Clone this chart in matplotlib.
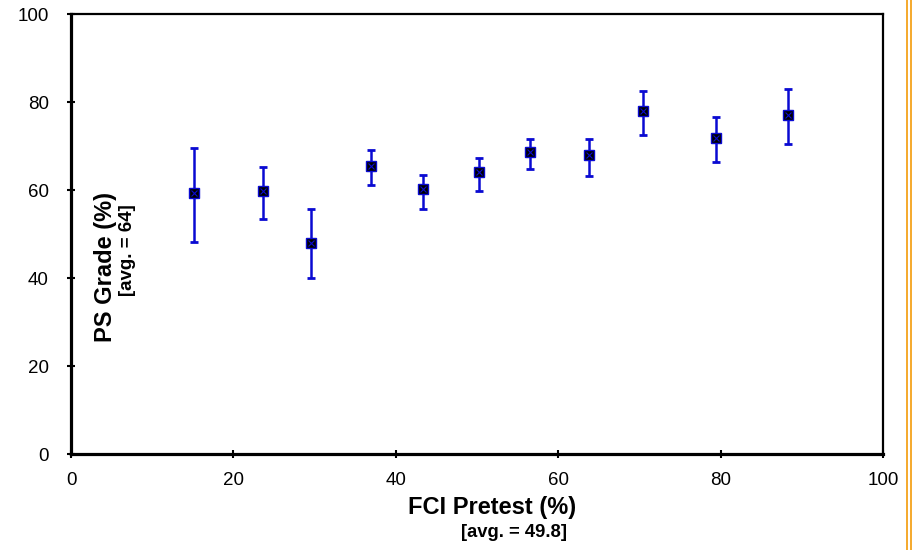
import matplotlib
matplotlib.use("Agg")
import matplotlib.pyplot as plt
from matplotlib.lines import Line2D

plt.rcParams['font.family'] = ['Liberation Sans', 'DejaVu Sans']

# FCI pretest bins vs. problem-set grade
fci_pretest = [15.1, 23.6, 29.6, 36.9, 43.3, 50.2, 56.5, 63.8, 70.4, 79.4, 88.3]
ps_grade = [59.3, 59.8, 48.0, 65.5, 60.2, 64.0, 68.7, 68.0, 78.0, 71.8, 77.0]
err_up = [69.5, 65.3, 55.6, 69.2, 63.4, 67.2, 71.7, 71.7, 82.6, 76.6, 83.0]
err_down = [48.1, 53.5, 39.9, 61.2, 55.8, 59.7, 64.8, 63.3, 72.6, 66.3, 70.4]

x_ticks = [0, 20, 40, 60, 80, 100]
y_ticks = [0, 20, 40, 60, 80, 100]

lower = [g - d for g, d in zip(ps_grade, err_down)]
upper = [u - g for g, u in zip(ps_grade, err_up)]

fig = plt.figure(figsize=(9.15, 5.5), dpi=100)
ax = fig.add_axes([0.0776, 0.1745, 0.8874, 0.80])

blue = '#0a0ad2'
ax.errorbar(fci_pretest, ps_grade, yerr=[lower, upper], fmt='none',
            ecolor=blue, elinewidth=1.8, capsize=3.2, capthick=2.0, zorder=2)
ax.plot(fci_pretest, ps_grade, 's', ms=7.5, mfc='black', mec=blue, mew=1.0, zorder=3)
ax.plot(fci_pretest, ps_grade, 'x', ms=5, mec=blue, mew=0.8, zorder=4)

ax.set_xlim(0, 100)
ax.set_ylim(0, 100)
ax.set_xticks(x_ticks)
ax.set_yticks(y_ticks)
ax.tick_params(axis='both', direction='inout', length=6, width=1.5,
               labelsize=13.5, colors='black')
ax.tick_params(axis='y', pad=13)
ax.tick_params(axis='x', pad=10)

for side in ['left', 'bottom']:
    ax.spines[side].set_linewidth(2.3)
for side in ['top', 'right']:
    ax.spines[side].set_linewidth(1.6)

# axis titles
fig.text(0.538, 0.077, 'FCI Pretest (%)', ha='center', va='center',
         fontsize=17, fontweight='bold')
fig.text(0.5617, 0.032, '[avg. = 49.8]', ha='center', va='center',
         fontsize=13.2, fontweight='bold')
fig.text(0.1158, 0.515, 'PS Grade (%)', ha='center', va='center',
         rotation=90, fontsize=17, fontweight='bold')
fig.text(0.139, 0.545, '[avg. = 64]', ha='center', va='center',
         rotation=90, fontsize=13.5, fontweight='bold')

# orange double rule at the right edge
for xpx in [907, 911]:
    fig.add_artist(Line2D([xpx / 915, xpx / 915], [0, 1], color='#f5a21b', lw=1.3))

fig.savefig('out.png', dpi=100)
